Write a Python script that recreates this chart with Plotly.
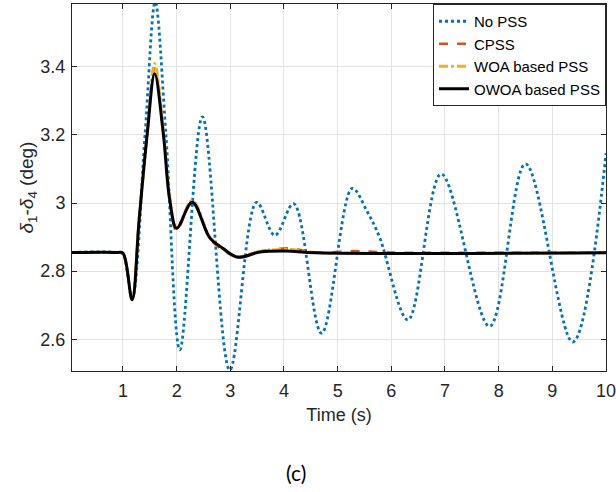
import plotly.graph_objects as go

# ---- data ----
t_nopss = [0.05, 0.9, 1.0, 1.17, 1.41, 1.6, 1.8, 2.06, 2.48, 2.99, 3.49, 3.83, 4.18,
           4.70, 5.27, 5.55, 5.78, 6.31, 6.93, 7.83, 8.50, 9.38, 10.0]
y_nopss = [2.855, 2.855, 2.85, 2.72, 3.20, 3.59, 3.20, 2.569, 3.253, 2.51, 3.002, 2.905, 2.998,
           2.618, 3.043, 2.975, 2.90, 2.657, 3.085, 2.638, 3.115, 2.592, 3.146]

t_cpss = [0.05, 0.9, 1.0, 1.17, 1.3, 1.45, 1.59, 1.75, 1.87, 2.0, 2.29, 2.62, 2.86, 3.14,
          3.55, 4.1, 4.6, 5.3, 6.0, 10.0]
y_cpss = [2.855, 2.855, 2.853, 2.716, 2.95, 3.20, 3.395, 3.21, 3.01, 2.918, 3.003, 2.895, 2.862,
          2.841, 2.858, 2.867, 2.855, 2.859, 2.855, 2.855]

t_woa = [0.05, 0.9, 1.0, 1.17, 1.3, 1.45, 1.59, 1.75, 1.87, 2.0, 2.29, 2.62, 2.86, 3.14,
         3.55, 4.1, 4.6, 10.0]
y_woa = [2.855, 2.855, 2.853, 2.716, 2.95, 3.20, 3.41, 3.22, 3.02, 2.926, 3.008, 2.90, 2.865,
         2.843, 2.858, 2.864, 2.855, 2.855]

t_owoa = [0.05, 0.9, 1.0, 1.17, 1.3, 1.45, 1.59, 1.75, 1.87, 2.0, 2.29, 2.62, 2.86, 3.14,
          3.55, 4.04, 4.6, 10.0]
y_owoa = [2.855, 2.855, 2.853, 2.716, 2.95, 3.20, 3.379, 3.205, 3.01, 2.926, 3.002, 2.897, 2.867,
          2.841, 2.856, 2.859, 2.854, 2.854]

x_ticks = [1, 2, 3, 4, 5, 6, 7, 8, 9, 10]
y_ticks = [2.6, 2.8, 3.0, 3.2, 3.4]
y_ticktext = ["2.6", "2.8", "3", "3.2", "3.4"]

FONT = "Liberation Sans, Arial"

fig = go.Figure()
fig.add_trace(go.Scatter(x=t_nopss, y=y_nopss, name="No PSS", mode="lines",
                         line=dict(color="#0072BD", width=2.8, dash="dot", shape="spline", smoothing=1.0)))
fig.add_trace(go.Scatter(x=t_cpss, y=y_cpss, name="CPSS", mode="lines",
                         line=dict(color="#D95319", width=2.4, dash="dash", shape="spline", smoothing=1.0)))
fig.add_trace(go.Scatter(x=t_woa, y=y_woa, name="WOA based PSS", mode="lines",
                         line=dict(color="#EDB120", width=2.8, dash="dashdot", shape="spline", smoothing=1.0)))
fig.add_trace(go.Scatter(x=t_owoa, y=y_owoa, name="OWOA based PSS", mode="lines",
                         line=dict(color="black", width=3, shape="spline", smoothing=1.0)))

axis_common = dict(showline=True, linecolor="#262626", linewidth=1, mirror="ticks",
                   ticks="inside", ticklen=5, tickcolor="#262626", automargin=False,
                   ticklabeloverflow="allow",
                   showgrid=True, gridcolor="#e3e3e3", gridwidth=1, zeroline=False,
                   tickfont=dict(family=FONT, size=18, color="#262626"))

fig.update_layout(
    width=616, height=492,
    margin=dict(l=72, r=10, t=4, b=121),
    paper_bgcolor="white", plot_bgcolor="white",
    xaxis=dict(range=[0.05, 10], tickvals=x_ticks, ticklabelstandoff=3,
               title=dict(text="Time (s)", standoff=8,
                          font=dict(family=FONT, size=18, color="#262626")),
               **axis_common),
    yaxis=dict(range=[2.507, 3.584], tickvals=y_ticks, ticktext=y_ticktext, ticklabelstandoff=2,
               title=dict(text="<i>δ</i><sub>1</sub>-<i>δ</i><sub>4</sub> (deg)", standoff=1,
                          font=dict(family=FONT, size=19, color="#262626")),
               **axis_common),
    legend=dict(x=1, y=1, xanchor="right", yanchor="top",
                bgcolor="white", bordercolor="#262626", borderwidth=1,
                font=dict(family=FONT, size=15, color="black"),
                tracegroupgap=0, itemwidth=30),
    showlegend=True,
)

fig.add_annotation(text="(c)", xref="paper", yref="paper",
                   x=(296 - 72) / (606 - 72), y=(371 - 472) / 367,
                   showarrow=False, xanchor="center", yanchor="middle",
                   font=dict(family="Lato, Open Sans", size=21, color="black"))

fig.write_html("out.html", config={"displayModeBar": False},
               post_script="document.body.style.margin='0px';")
